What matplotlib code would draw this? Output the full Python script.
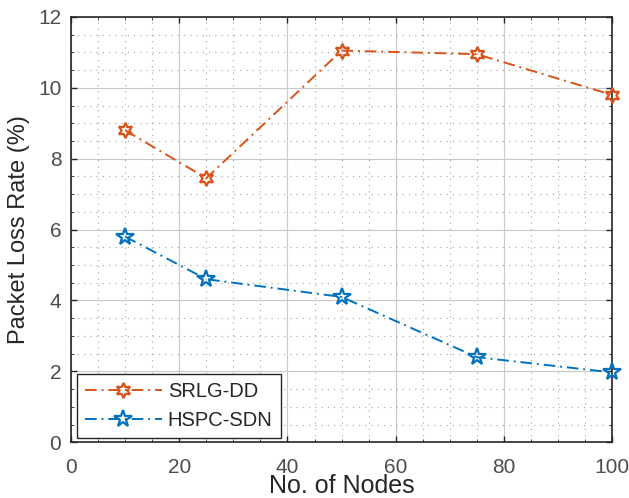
import matplotlib
matplotlib.use("Agg")
import matplotlib.pyplot as plt
from matplotlib.ticker import MultipleLocator

nodes = [10, 25, 50, 75, 100]
srlg_dd = [8.8, 7.45, 11.05, 10.95, 9.8]
hspc_sdn = [5.8, 4.6, 4.1, 2.4, 1.97]
series_names = ["SRLG-DD", "HSPC-SDN"]
x_ticks = [0, 20, 40, 60, 80, 100]
y_ticks = [0, 2, 4, 6, 8, 10, 12]

plt.rcParams['font.family'] = ['Liberation Sans', 'DejaVu Sans']

fig = plt.figure(figsize=(6.29, 4.98), dpi=100)
ax = fig.add_axes([0.113, 0.112, 0.860, 0.854])

orange = '#D95319'
blue = '#0072BD'
dashdot = (0, (6, 2.5, 1, 2.5))

ax.plot(nodes, srlg_dd, linestyle=dashdot, color=orange, linewidth=1.4,
        marker=(6, 1, 0), markersize=11, markerfacecolor='none',
        markeredgecolor=orange, markeredgewidth=1.6, label=series_names[0],
        clip_on=False, zorder=3)
ax.plot(nodes, hspc_sdn, linestyle=dashdot, color=blue, linewidth=1.4,
        marker='*', markersize=13, markerfacecolor='none',
        markeredgecolor=blue, markeredgewidth=1.6, label=series_names[1],
        clip_on=False, zorder=3)

ax.set_xlim(0, 100)
ax.set_ylim(0, 12)
ax.set_xticks(x_ticks)
ax.set_yticks(y_ticks)
ax.xaxis.set_minor_locator(MultipleLocator(5))
ax.yaxis.set_minor_locator(MultipleLocator(0.5))

ax.grid(True, which='major', color='#c8c8c8', linewidth=0.8, linestyle='-')
ax.grid(True, which='minor', color='#b0b0b0', linewidth=0.9, linestyle=(0, (1, 4)))
ax.set_axisbelow(True)

for s in ax.spines.values():
    s.set_color('#262626')
    s.set_linewidth(1.2)

ax.tick_params(which='major', direction='in', length=4, width=1, colors='#262626',
               labelsize=15, labelcolor='#4d4d4d', top=True, right=True)
ax.tick_params(which='minor', direction='in', length=2, width=0.6, colors='#262626',
               top=True, right=True)
ax.tick_params(axis='x', which='major', pad=11)
ax.tick_params(axis='y', which='major', pad=7)

ax.set_xlabel("No. of Nodes", fontsize=18, color='#262626', labelpad=-2)
ax.set_ylabel("Packet Loss Rate (%)", fontsize=17, color='#262626', labelpad=6)

leg = ax.legend(loc='lower left', bbox_to_anchor=(6 / 541, 4 / 426), borderaxespad=0,
                fontsize=14.5, frameon=True, fancybox=False, edgecolor='#262626',
                framealpha=1, handlelength=3.8, borderpad=0.4, labelspacing=0.5,
                handletextpad=0.3)
leg.get_frame().set_linewidth(1.0)
for t in leg.get_texts():
    t.set_color('#262626')

fig.savefig("out.png", dpi=100)
